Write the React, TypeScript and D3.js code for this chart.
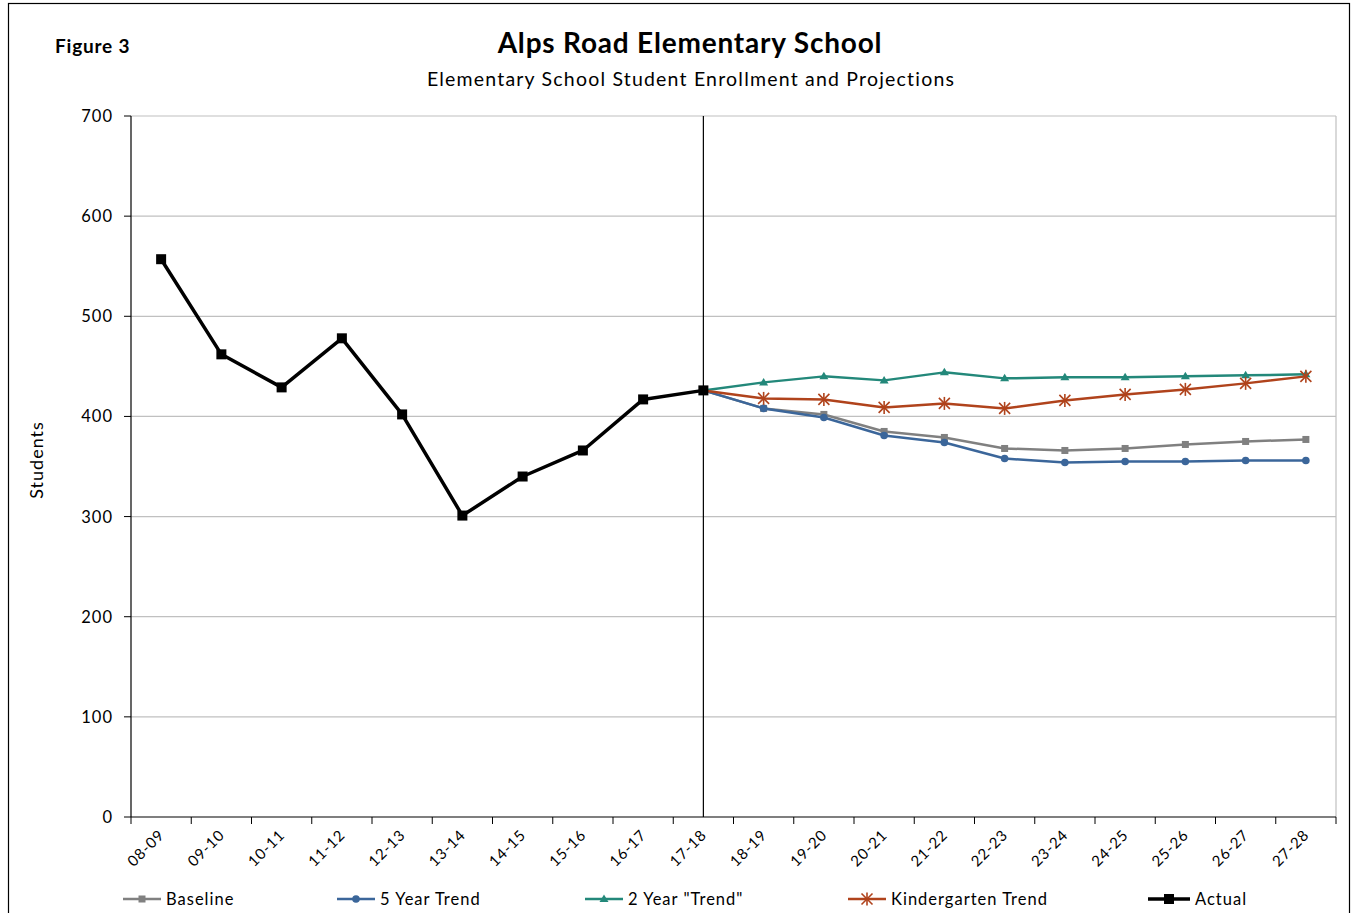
import React from "react";
import * as d3 from "d3";

const categories = ["08-09","09-10","10-11","11-12","12-13","13-14","14-15","15-16","16-17","17-18","18-19","19-20","20-21","21-22","22-23","23-24","24-25","25-26","26-27","27-28"];
const actual = [557, 462, 429, 478, 402, 301, 340, 366, 417, 426];
const projStart = 9; // index of 17-18
const baseline = [426, 408, 402, 385, 379, 368, 366, 368, 372, 375, 377];
const fiveYear = [426, 408, 399, 381, 374, 358, 354, 355, 355, 356, 356];
const twoYear = [426, 434, 440, 436, 444, 438, 439, 439, 440, 441, 442];
const kinder = [426, 418, 417, 409, 413, 408, 416, 422, 427, 433, 440];
const yTicks = [0, 100, 200, 300, 400, 500, 600, 700];

const W = 1353, H = 913;
const L = 131, R = 1336, T = 116, B = 817;
const FONT = "Lato, 'Open Sans', sans-serif";

type Series = { name: string; values: number[]; start: number; color: string; marker: string; width: number };
const series: Series[] = [
  { name: "Baseline", values: baseline, start: projStart, color: "#808080", marker: "square", width: 2.5 },
  { name: "5 Year Trend", values: fiveYear, start: projStart, color: "#3B669A", marker: "circle", width: 2.5 },
  { name: "2 Year \"Trend\"", values: twoYear, start: projStart, color: "#23887A", marker: "triangle", width: 2.5 },
  { name: "Kindergarten Trend", values: kinder, start: projStart, color: "#B0431C", marker: "star", width: 2.5 },
  { name: "Actual", values: actual, start: 0, color: "#000000", marker: "bigsquare", width: 3.5 },
];
const legendX = [123, 337, 585, 848, 1148];

function Marker({ type, x, y, color }: { type: string; x: number; y: number; color: string }) {
  if (type === "square") return <rect x={x - 3.5} y={y - 3.5} width={7} height={7} fill={color} />;
  if (type === "bigsquare") return <rect x={x - 5} y={y - 5} width={10} height={10} fill={color} />;
  if (type === "circle") return <circle cx={x} cy={y} r={3.8} fill={color} />;
  if (type === "triangle") return <path d={`M${x},${y - 4.5}L${x + 4.5},${y + 3}L${x - 4.5},${y + 3}Z`} fill={color} />;
  if (type === "star") {
    const s = 5.5;
    return (
      <g stroke={color} strokeWidth={1.6}>
        <line x1={x - s} y1={y - s} x2={x + s} y2={y + s} />
        <line x1={x - s} y1={y + s} x2={x + s} y2={y - s} />
        <line x1={x} y1={y - s - 1} x2={x} y2={y + s + 1} />
      </g>
    );
  }
  return null;
}

export default function App() {
  const x = d3.scaleBand<string>().domain(categories).range([L, R]);
  const xc = (i: number) => (x(categories[i]) as number) + x.bandwidth() / 2;
  const y = d3.scaleLinear().domain([0, 700]).range([B, T]);
  const line = d3.line<[number, number]>().x((d) => d[0]).y((d) => d[1]);
  const bounds = categories.map((c) => x(c) as number).concat([R]);

  return (
    <svg width={W} height={H} style={{ position: "absolute", left: 0, top: 0, background: "#fff" }} fontFamily={FONT}>
      <rect x={8.5} y={3.5} width={1341} height={H + 10} fill="#fff" stroke="#000" strokeWidth={1.2} />
      <text x={55} y={53} fontSize={19} fontWeight={700} letterSpacing={0.8}>Figure 3</text>
      <text x={690} y={53} fontSize={28} fontWeight={700} textAnchor="middle" letterSpacing={0.8}>Alps Road Elementary School</text>
      <text x={691} y={86} fontSize={19.5} textAnchor="middle" letterSpacing={1.2}>Elementary School Student Enrollment and Projections</text>

      {yTicks.map((t) => (
        <g key={t}>
          {t > 0 && <line x1={L} x2={R} y1={y(t)} y2={y(t)} stroke="#c0c0c0" strokeWidth={1.2} />}
          <line x1={L - 7} x2={L} y1={y(t)} y2={y(t)} stroke="#000" />
          <text x={113} y={y(t) + 6} fontSize={16.5} textAnchor="end" letterSpacing={1}>{t}</text>
        </g>
      ))}
      <line x1={R} x2={R} y1={T} y2={B} stroke="#c0c0c0" strokeWidth={1.2} />
      <line x1={L} x2={L} y1={T} y2={B} stroke="#000" strokeWidth={1.2} />
      <line x1={L} x2={R} y1={B} y2={B} stroke="#000" strokeWidth={1.2} />
      {bounds.map((b, i) => (
        <line key={i} x1={b} x2={b} y1={B} y2={B + 7} stroke="#000" />
      ))}
      {categories.map((c, i) => (
        <text key={c} transform={`translate(${xc(i) + 4},${B + 19}) rotate(-45)`} fontSize={15} textAnchor="end" letterSpacing={0.8}>{c}</text>
      ))}
      <text transform={`translate(43,460) rotate(-90)`} fontSize={18} textAnchor="middle" letterSpacing={1}>Students</text>

      <line x1={xc(projStart)} x2={xc(projStart)} y1={T} y2={B} stroke="#000" strokeWidth={1.2} />

      {series.map((s) => {
        const pts: [number, number][] = s.values.map((v, j) => [xc(s.start + j), y(v)]);
        return (
          <g key={s.name}>
            <path d={line(pts) || ""} fill="none" stroke={s.color} strokeWidth={s.width} strokeLinejoin="round" />
            {pts.map((p, j) => (s.start > 0 && j === 0 ? null : <Marker key={j} type={s.marker} x={p[0]} y={p[1]} color={s.color} />))}
          </g>
        );
      })}

      {series.map((s, i) => {
        const lx = legendX[i];
        const len = s.marker === "bigsquare" ? 42 : 38;
        return (
          <g key={s.name}>
            <line x1={lx} x2={lx + len} y1={899} y2={899} stroke={s.color} strokeWidth={s.width} />
            <Marker type={s.marker} x={lx + len / 2} y={899} color={s.color} />
            <text x={lx + len + 5} y={905} fontSize={16.5} letterSpacing={1}>{s.name}</text>
          </g>
        );
      })}
    </svg>
  );
}
